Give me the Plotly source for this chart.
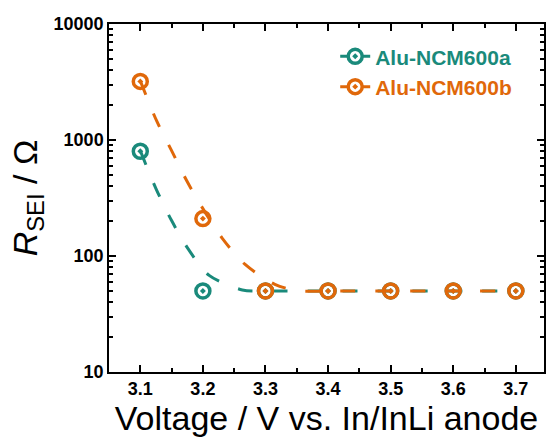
import plotly.graph_objects as go

# Measured SEI resistance at each cut-off voltage
voltage = [3.1, 3.2, 3.3, 3.4, 3.5, 3.6, 3.7]
r_sei_a = [800, 50, 50, 50, 50, 50, 50]
r_sei_b = [3200, 210, 50, 50, 50, 50, 50]

# Exponential-decay fit curves (sampled)
fit_v_a = [3.1, 3.125, 3.15, 3.177, 3.21, 3.263, 3.3, 3.4, 3.5, 3.6, 3.7]
fit_r_a = [809, 381, 202, 114, 68, 51, 50, 50, 50, 50, 50]
fit_v_b = [3.1, 3.126, 3.15, 3.174, 3.197, 3.231, 3.267, 3.315, 3.353, 3.4, 3.5, 3.6, 3.7]
fit_r_b = [3236, 1466, 809, 447, 272, 142, 85, 57, 50, 50, 50, 50, 50]

names = ["Alu-NCM600a", "Alu-NCM600b"]
colors = ["#1a8a7b", "#e0680a"]

y_ticks = [10, 100, 1000, 10000]
x_ticks = [3.1, 3.2, 3.3, 3.4, 3.5, 3.6, 3.7]

DASH = "15px,20px"
FONT = "Liberation Sans, Arial, sans-serif"

fig = go.Figure()

series = [
    (voltage, r_sei_a, fit_v_a, fit_r_a),
    (voltage, r_sei_b, fit_v_b, fit_r_b),
]

for (vx, vy, fx, fy), name, col in zip(series, names, colors):
    fig.add_trace(go.Scatter(
        x=fx, y=fy, mode="lines",
        line=dict(color=col, width=3, dash=DASH, shape="spline", smoothing=0.8),
        showlegend=False, hoverinfo="skip",
    ))
    fig.add_trace(go.Scatter(
        x=vx, y=vy, mode="markers",
        marker=dict(symbol="circle-open-dot", size=14, color=col,
                    line=dict(color=col, width=3.5)),
        showlegend=False,
    ))
    # legend entry: dashed line with marker
    fig.add_trace(go.Scatter(
        x=[None], y=[None], mode="lines+markers",
        line=dict(color=col, width=3, dash="8px,14px"),
        marker=dict(symbol="circle-open-dot", size=14, color=col,
                    line=dict(color=col, width=3.5)),
        name=f"<span style='color:{col}'><b>{name}</b></span>",
        showlegend=True,
    ))

axis_common = dict(
    showline=True, linecolor="black", linewidth=1.5, mirror="ticks",
    ticks="inside", tickcolor="black", tickwidth=1.5, ticklen=7,
    showgrid=False, zeroline=False,
    tickfont=dict(family=FONT, size=18, color="black", weight="bold"),
    title_font=dict(family=FONT, size=34, color="black"),
)

fig.update_xaxes(
    **axis_common,
    range=[3.05, 3.745],
    tickvals=x_ticks,
    ticktext=[f"{v:.1f}" for v in x_ticks],
    minor=dict(ticks="inside", ticklen=4, tickwidth=1.5, tickcolor="black",
               tick0=3.05, dtick=0.1),
    title_text="Voltage / V vs. In/InLi anode",
    title_standoff=6,
)

fig.update_yaxes(
    **axis_common,
    type="log",
    range=[1, 4],
    tickvals=y_ticks,
    ticktext=[str(v) for v in y_ticks],
    minor=dict(ticks="inside", ticklen=4, tickwidth=1.5, tickcolor="black",
               dtick="D1"),
    title_text="<i>R</i><sub>SEI</sub> / Ω",
    title_standoff=6,
)

fig.update_layout(
    width=552, height=439,
    margin=dict(l=109, r=6, t=24, b=67),
    plot_bgcolor="white", paper_bgcolor="white",
    legend=dict(
        x=0.52, y=0.965, xanchor="left", yanchor="top",
        font=dict(family=FONT, size=21),
        bgcolor="rgba(0,0,0,0)", tracegroupgap=0,
    ),
)

fig.write_html("out.html")
